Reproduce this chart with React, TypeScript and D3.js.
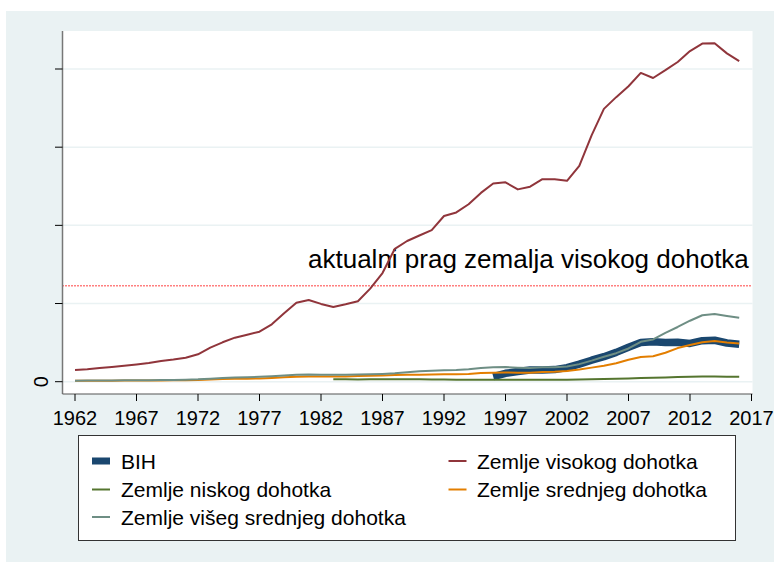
import React from "react";
import * as d3 from "d3";

const highYears = d3.range(1962, 2017);
const highIncome = [
  1496, 1600, 1740, 1870, 2030, 2200, 2400, 2650, 2840, 3070,
  3500, 4350, 5040, 5630, 6000, 6400, 7340, 8750, 10100, 10450,
  9950, 9550, 9900, 10300, 11900, 13900, 17000, 18000, 18700, 19400,
  21200, 21650, 22700, 24150, 25350, 25500, 24600, 24950, 25900, 25900,
  25700, 27600, 31500, 34900, 36400, 37800, 39500, 38850, 39850, 40900,
  42300, 43250, 43300, 42000, 41000,
];
const upperMiddleIncome = [
  130, 140, 150, 160, 170, 180, 190, 210, 230, 260,
  300, 380, 470, 540, 570, 620, 700, 800, 900, 930,
  900, 880, 900, 920, 950, 1000, 1080, 1200, 1350, 1400,
  1450, 1500, 1600, 1750, 1850, 1880, 1800, 1750, 1850, 1850,
  1950, 2250, 2700, 3200, 3650, 4250, 5100, 5400, 6250, 7000,
  7800, 8500, 8650, 8400, 8180,
];
const middleIncome = [
  110, 115, 120, 130, 140, 145, 150, 160, 175, 190,
  220, 270, 330, 370, 390, 420, 480, 560, 640, 670,
  650, 650, 680, 720, 760, 800, 850, 880, 900, 920,
  940, 950, 1000, 1100, 1150, 1170, 1150, 1150, 1250, 1280,
  1370, 1550, 1800, 2050, 2350, 2800, 3150, 3250, 3700, 4300,
  4700, 5050, 5200, 5000, 4900,
];
const lowYears = d3.range(1983, 2017);
const lowIncome = [
  310, 300, 290, 300, 300, 310, 300, 300, 290, 280,
  260, 240, 250, 260, 260, 260, 250, 250, 250, 260,
  280, 310, 340, 380, 420, 480, 500, 550, 590, 620,
  650, 660, 640, 620,
];
const bihYears = d3.range(1996, 2017);
const bih = [
  640, 1070, 1300, 1500, 1500, 1550, 1800, 2250, 2750, 3200,
  3750, 4400, 5000, 5100, 5000, 5050, 4900, 5250, 5300, 4950,
  4800,
];
const threshold = 12276;
const xTicks = d3.range(1962, 2018, 5);
const yTicks = [0, 10000, 20000, 30000, 40000];
const yTickLabels = ["0", "", "", "", ""];
const annotation = "aktualni prag zemalja visokog dohotka";

const legendItems = [
  { label: "BIH", color: "#1a476f", key: "rect", col: 0, row: 0 },
  { label: "Zemlje visokog dohotka", color: "#90353b", key: "line", col: 1, row: 0 },
  { label: "Zemlje niskog dohotka", color: "#55752f", key: "line", col: 0, row: 1 },
  { label: "Zemlje srednjeg dohotka", color: "#e37e00", key: "line", col: 1, row: 1 },
  { label: "Zemlje višeg srednjeg dohotka", color: "#6e8e84", key: "line", col: 0, row: 2 },
];

export default function App() {
  const W = 774, H = 562;
  const plot = { left: 62.5, right: 752.5, top: 31, bottom: 394 };
  const x = d3.scaleLinear().domain([1962, 2017]).range([75, 751.5]);
  const y = d3.scaleLinear().domain([0, 40000]).range([381.7, 69]);
  const font = "'Liberation Sans', Arial, Helvetica, sans-serif";

  const mk = (years: number[], vals: number[]) =>
    d3.line<number>().x((_, i) => x(years[i])).y((v) => y(v))(vals) || "";

  const series = [
    { d: mk(bihYears, bih), color: "#1a476f", w: 7.5 },
    { d: mk(highYears, highIncome), color: "#90353b", w: 2 },
    { d: mk(lowYears, lowIncome), color: "#55752f", w: 2 },
    { d: mk(highYears, middleIncome), color: "#e37e00", w: 2 },
    { d: mk(highYears, upperMiddleIncome), color: "#6e8e84", w: 2 },
  ];

  const legX = [92, 448.5];
  const legTextX = [121, 477];
  const legRowY = [461, 489.5, 517];

  return (
    <svg width={W} height={H} style={{ position: "absolute", left: 0, top: 0 }} fontFamily={font}>
      <rect x={0} y={0} width={W} height={H} fill="#ffffff" />
      <rect x={6} y={11} width={W - 6} height={H - 11} fill="#eaf2f3" />
      <rect x={plot.left} y={plot.top} width={plot.right - plot.left} height={plot.bottom - plot.top} fill="#ffffff" />
      {yTicks.map((t) => (
        <line key={"g" + t} x1={plot.left} x2={plot.right} y1={y(t)} y2={y(t)} stroke="#eaf2f3" strokeWidth={1.5} />
      ))}
      <line x1={plot.left} x2={plot.right} y1={y(threshold)} y2={y(threshold)} stroke="#ff0000" strokeWidth={1.5} strokeDasharray="1,2" />
      <text x={308} y={268} fontSize={26} fill="#000">{annotation}</text>
      {series.map((s, i) => (
        <path key={i} d={s.d} fill="none" stroke={s.color} strokeWidth={s.w} strokeLinejoin="round" />
      ))}
      <line x1={plot.left} x2={plot.left} y1={plot.top} y2={plot.bottom} stroke="#777" strokeWidth={1.5} />
      <line x1={plot.left} x2={plot.right} y1={plot.bottom} y2={plot.bottom} stroke="#555" strokeWidth={1.2} />
      {yTicks.map((t, i) => (
        <g key={"yt" + t}>
          <line x1={55} x2={plot.left} y1={y(t)} y2={y(t)} stroke="#000" strokeWidth={1} />
          {yTickLabels[i] && (
            <text transform={`translate(48,${y(t)}) rotate(-90)`} textAnchor="middle" fontSize={20} fill="#000">
              {yTickLabels[i]}
            </text>
          )}
        </g>
      ))}
      {xTicks.map((t) => (
        <g key={"xt" + t}>
          <line x1={x(t)} x2={x(t)} y1={plot.bottom} y2={plot.bottom + 7} stroke="#000" strokeWidth={1} />
          <text x={x(t)} y={425} textAnchor="middle" fontSize={20} fill="#000">{t}</text>
        </g>
      ))}
      <rect x={78.5} y={435.5} width={657} height={105} fill="#ffffff" stroke="#333" strokeWidth={1} />
      {legendItems.map((it) => (
        <g key={it.label}>
          {it.key === "rect" ? (
            <rect x={legX[it.col]} y={legRowY[it.row] - 3.5} width={18} height={7} fill={it.color} />
          ) : (
            <line x1={legX[it.col]} x2={legX[it.col] + 18} y1={legRowY[it.row]} y2={legRowY[it.row]} stroke={it.color} strokeWidth={2} />
          )}
          <text x={legTextX[it.col]} y={legRowY[it.row] + 7.5} fontSize={21} fill="#000">{it.label}</text>
        </g>
      ))}
    </svg>
  );
}
